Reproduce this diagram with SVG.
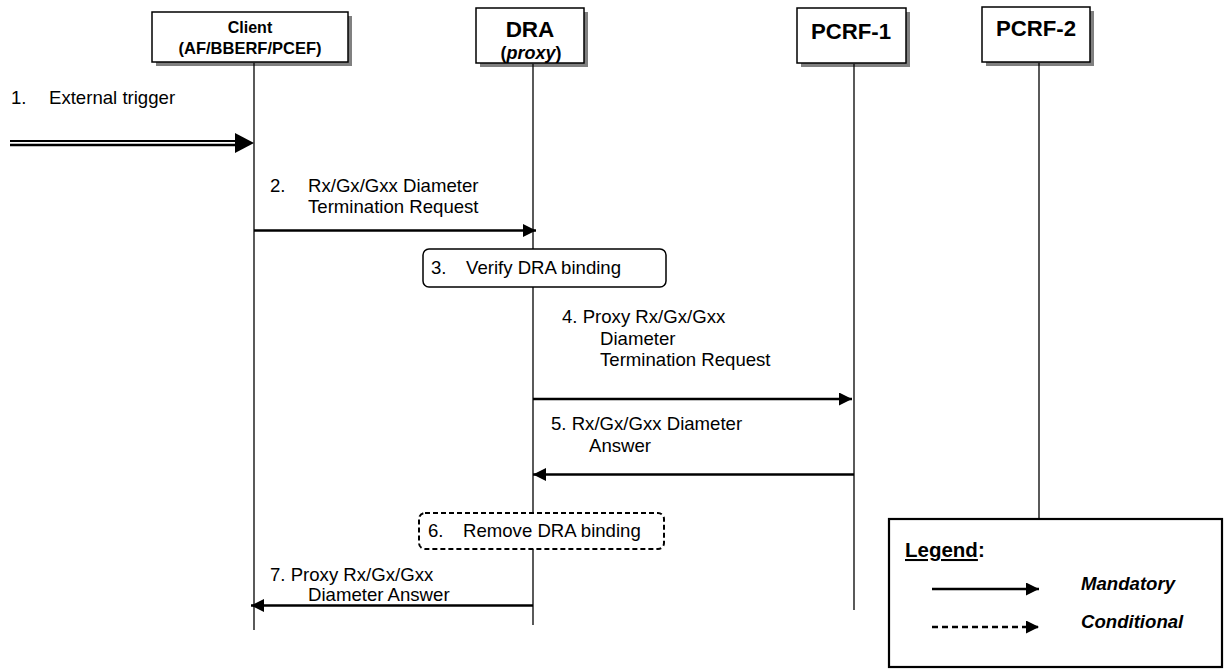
<svg xmlns="http://www.w3.org/2000/svg" width="1225" height="671" viewBox="0 0 1225 671">
<style>
.t{font-family:"Liberation Sans",Arial,sans-serif;font-size:18.6px;fill:#000}
.h{font-family:"Liberation Sans",Arial,sans-serif;font-weight:bold;fill:#000;text-anchor:middle}
.box{fill:#fff;stroke:#000;stroke-width:1.5}
.sh{fill:#808080}
.life{stroke:#000;stroke-width:1.3;fill:none}
.msg{stroke:#000;stroke-width:2.5;fill:none;marker-end:url(#ah)}
</style>
<defs>
<marker id="ah" markerUnits="userSpaceOnUse" markerWidth="14" markerHeight="14" refX="13" refY="6.5" orient="auto">
<path d="M0,0 L13,6.5 L0,13 Z" fill="#000"/>
</marker>
</defs>
<rect width="1225" height="671" fill="#fff"/>

<g id="client">
<rect class="sh" x="156" y="16" width="196" height="50"/>
<rect class="box" x="152" y="12" width="196" height="50"/>
<text class="h" x="250" y="33" font-size="16">Client</text>
<text class="h" x="250" y="54" font-size="16.5">(AF/BBERF/PCEF)</text>
</g>
<g id="dra">
<rect class="sh" x="480" y="12" width="108" height="55"/>
<rect class="box" x="476" y="8" width="108" height="55"/>
<text class="h" x="530" y="37" font-size="22.5">DRA</text>
<text class="h" x="531" y="59" font-size="18">(<tspan font-style="italic">proxy</tspan>)</text>
</g>
<g id="pcrf1">
<rect class="sh" x="801" y="12" width="109" height="55"/>
<rect class="box" x="797" y="8" width="109" height="55"/>
<text class="h" x="851" y="39" font-size="22.2">PCRF-1</text>
</g>
<g id="pcrf2">
<rect class="sh" x="986" y="11" width="108" height="55"/>
<rect class="box" x="982" y="7" width="108" height="55"/>
<text class="h" x="1036" y="36" font-size="22.2">PCRF-2</text>
</g>

<g id="lifelines">
<line class="life" x1="254" y1="63" x2="254" y2="630"/>
<line class="life" x1="533" y1="64" x2="533" y2="625"/>
<line class="life" x1="854" y1="64" x2="854" y2="610"/>
<line class="life" x1="1039" y1="63" x2="1039" y2="519"/>
</g>

<g id="step1">
<text class="t" x="11" y="104">1.</text>
<text class="t" x="49" y="104">External trigger</text>
</g>

<g id="step3">
<rect x="423" y="249" width="243" height="38" rx="6" fill="#fff" stroke="#000" stroke-width="1.5"/>
<text class="t" x="431" y="274">3.</text>
<text class="t" x="466" y="274">Verify DRA binding</text>
</g>

<g id="step6">
<rect x="419" y="513" width="245" height="36" rx="6" fill="#fff" stroke="#000" stroke-width="2" stroke-dasharray="5,3"/>
<text class="t" x="428" y="537">6.</text>
<text class="t" x="463" y="537">Remove DRA binding</text>
</g>

<g id="connectors">
<line x1="10" y1="141" x2="238" y2="141" stroke="#000" stroke-width="2"/>
<line x1="10" y1="145" x2="238" y2="145" stroke="#000" stroke-width="2.7"/>
<path d="M235,133 L254,143 L235,153 Z" fill="#000"/>

<line class="msg" x1="254" y1="230.5" x2="536" y2="230.5"/>
<line class="msg" x1="533" y1="399" x2="852" y2="399"/>
<line class="msg" x1="854" y1="474.5" x2="533" y2="474.5"/>
<line class="msg" x1="533" y1="605.5" x2="251" y2="605.5"/>
</g>

<g id="labels">
<text class="t" x="270" y="192">2.</text>
<text class="t" x="308" y="192">Rx/Gx/Gxx Diameter</text>
<text class="t" x="308" y="213">Termination Request</text>
<text class="t" x="562" y="323">4. Proxy Rx/Gx/Gxx</text>
<text class="t" x="600" y="345">Diameter</text>
<text class="t" x="600" y="366">Termination Request</text>
<text class="t" x="551" y="430">5. Rx/Gx/Gxx Diameter</text>
<text class="t" x="589" y="452">Answer</text>
<text class="t" x="270" y="581">7. Proxy Rx/Gx/Gxx</text>
<text class="t" x="308" y="601">Diameter Answer</text>
</g>

<g id="legend">
<rect x="889" y="519" width="333" height="148" fill="#fff" stroke="#000" stroke-width="2.2"/>
<text x="905" y="557" font-family="Liberation Sans,Arial,sans-serif" font-weight="bold" font-size="20.5"><tspan text-decoration="underline">Legend</tspan>:</text>
<line x1="932" y1="589" x2="1039" y2="589" stroke="#000" stroke-width="2.5" marker-end="url(#ah)"/>
<line x1="932" y1="627" x2="1039" y2="627" stroke="#000" stroke-width="2.5" stroke-dasharray="6,4" marker-end="url(#ah)"/>
<text x="1081" y="590" font-family="Liberation Sans,Arial,sans-serif" font-weight="bold" font-style="italic" font-size="18.6">Mandatory</text>
<text x="1081" y="628" font-family="Liberation Sans,Arial,sans-serif" font-weight="bold" font-style="italic" font-size="18.6">Conditional</text>
</g>
</svg>
